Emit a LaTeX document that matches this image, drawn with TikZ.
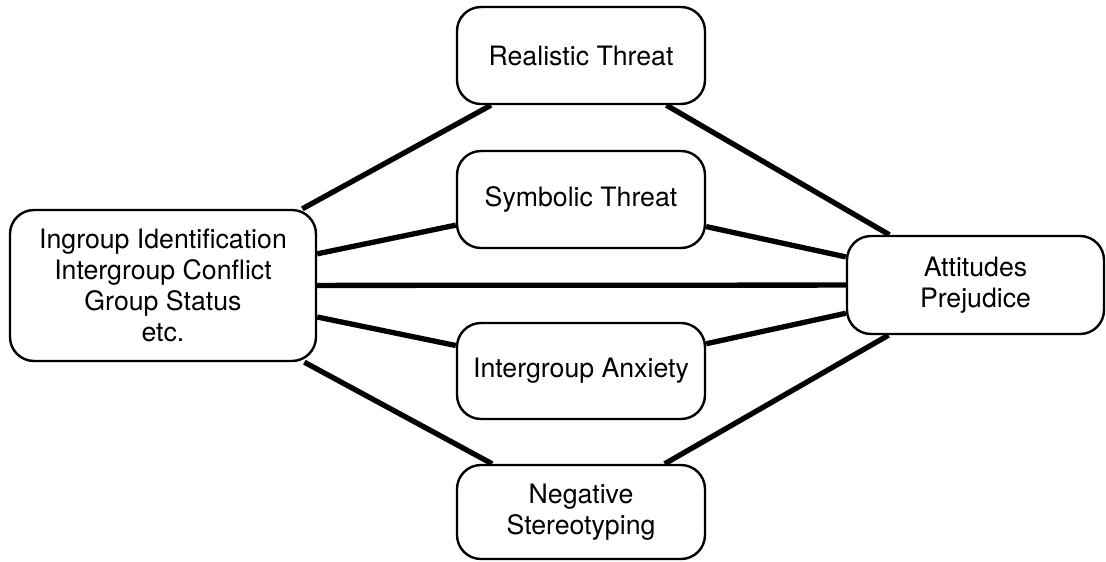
\documentclass[tikz,border=0pt]{standalone}
\usepackage{fontspec}
\setmainfont{TeX Gyre Heros}
\usetikzlibrary{backgrounds}
\begin{document}
\begin{tikzpicture}[x=1pt,y=-1pt,
  box/.style={draw, line width=2.4pt, fill=white, rounded corners=24pt,
    align=center, font=\fontsize{26.7}{31}\selectfont, inner sep=0pt},
  link/.style={line width=5.3pt}]
\useasboundingbox (0,0) rectangle (1106,562);
\node[box, minimum width=306pt, minimum height=151pt] (L) at (163,285.5)
  {Ingroup Identification\\Intergroup Conflict\\Group Status\\etc.};
\node[box, minimum width=248pt, minimum height=97pt] (RT) at (581,55.5) {Realistic Threat};
\node[box, minimum width=248pt, minimum height=97pt] (ST) at (581,199.5) {Symbolic Threat};
\node[box, minimum width=248pt, minimum height=96pt] (IA) at (581,371) {Intergroup Anxiety};
\node[box, minimum width=248pt, minimum height=94pt] (NS) at (581,512) {Negative\\Stereotyping};
\node[box, minimum width=257pt, minimum height=98pt] (AP) at (975.5,285) {Attitudes\\Prejudice};
\begin{pgfonlayer}{background}
\draw[link] (L) -- (RT);
\draw[link] (L) -- (ST);
\draw[link] (L) -- (AP);
\draw[link] (L) -- (IA);
\draw[link] (L) -- (NS);
\draw[link] (RT) -- (AP);
\draw[link] (ST) -- (AP);
\draw[link] (IA) -- (AP);
\draw[link] (NS) -- (AP);
\end{pgfonlayer}
\end{tikzpicture}
\end{document}
